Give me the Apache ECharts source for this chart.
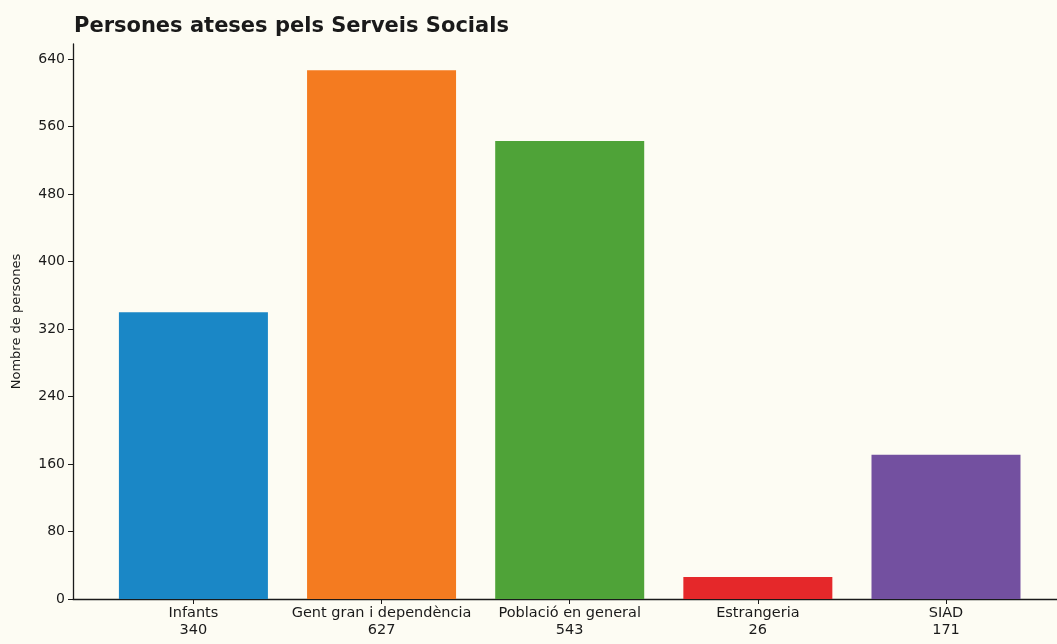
<!DOCTYPE html>
<html>
<head>
<meta charset="utf-8">
<script src="https://cdn.jsdelivr.net/npm/echarts@6/dist/echarts.min.js"></script>
<style>
  html, body { margin: 0; padding: 0; background: #fdfcf3; }
  #chart { width: 1057px; height: 644px; }
</style>
</head>
<body>
<div id="chart"></div>
<script>
// dades
const categories = ['Infants', 'Gent gran i dependència', 'Població en general', 'Estrangeria', 'SIAD']
const values = [340, 627, 543, 26, 171]
const colors = ['#1a87c6', '#f47b20', '#4fa338', '#e5282a', '#7350a0']
const yTicks = [0, 80, 160, 240, 320, 400, 480, 560, 640]
const xTicks = [0, 1, 2, 3, 4]

const chart = echarts.init(document.getElementById('chart'))

const option = {
  backgroundColor: '#fdfcf3',
  textStyle: { fontFamily: 'DejaVu Sans' },
  title: {
    text: 'Persones ateses pels Serveis Socials',
    left: 69,
    top: 11,
    textStyle: { fontFamily: 'DejaVu Sans', fontWeight: 'bold', fontSize: 21, color: '#1a1a1a' }
  },
  grid: { left: 73, right: 0, top: 44, bottom: 45 },
  xAxis: {
    type: 'value',
    min: -0.64,
    max: 4.59,
    splitLine: { show: false },
    axisLine: { onZero: false, lineStyle: { color: '#1a1a1a', width: 1.3 } },
    axisTick: { customValues: xTicks, length: 5, lineStyle: { color: '#1a1a1a' } },
    axisLabel: {
      customValues: xTicks,
      margin: 6,
      color: '#1a1a1a',
      fontSize: 14.5,
      lineHeight: 17,
      align: 'center',
      formatter: v => categories[v] + '\n' + values[v]
    }
  },
  yAxis: {
    type: 'value',
    min: 0,
    max: 658,
    name: 'Nombre de persones',
    nameLocation: 'middle',
    nameGap: 50,
    nameTextStyle: { fontSize: 13, color: '#1a1a1a' },
    splitLine: { show: false },
    axisLine: { show: true, onZero: false, lineStyle: { color: '#1a1a1a', width: 1.3 } },
    axisTick: { show: true, customValues: yTicks, length: 5, lineStyle: { color: '#1a1a1a' } },
    axisLabel: { customValues: yTicks, margin: 8, color: '#1a1a1a', fontSize: 14 }
  },
  series: [
    {
      type: 'bar',
      barWidth: 149,
      data: values.map((v, i) => ({ value: [i, v], itemStyle: { color: colors[i] } }))
    }
  ]
}

chart.setOption(option)
</script>
</body>
</html>
